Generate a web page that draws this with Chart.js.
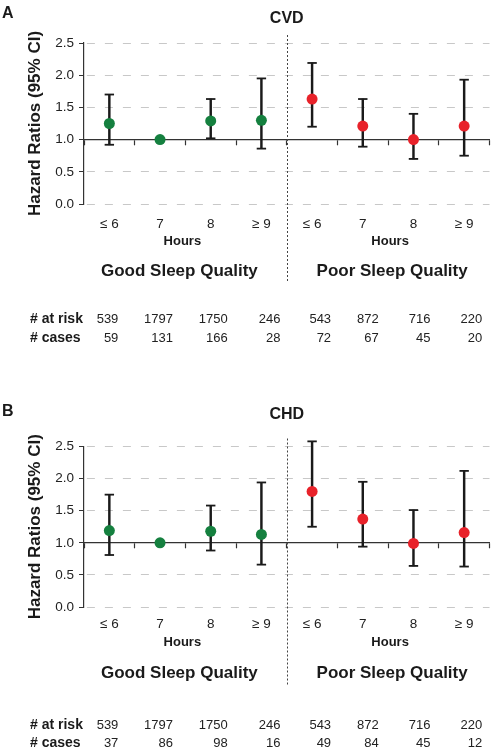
<!DOCTYPE html>
<html lang="en">
<head>
<meta charset="UTF-8">
<title>Sleep duration, sleep quality and hazard ratios</title>
<script src="https://cdn.jsdelivr.net/npm/chart.js"></script>
<style>
  body { margin: 0; background: #fff; }
  .panel { position: absolute; left: 0; width: 496px; }
  #panelA { top: 0; height: 400px; }
  #panelB { top: 400px; height: 349px; }
</style>
</head>
<body>
<div class="panel" id="panelA"><canvas id="chartA"></canvas></div>
<div class="panel" id="panelB"><canvas id="chartB"></canvas></div>

<script>
const hourLabels = ['≤ 6', '7', '8', '≥ 9', '≤ 6', '7', '8', '≥ 9'];
const groupLabels = ['Good Sleep Quality', 'Poor Sleep Quality'];

// panel A - CVD
const cvdHR    = [1.25, 1.00, 1.29, 1.30, 1.63, 1.21, 1.00, 1.21];
const cvdLower = [0.92, null, 1.02, 0.86, 1.20, 0.89, 0.70, 0.75];
const cvdUpper = [1.70, null, 1.63, 1.95, 2.19, 1.63, 1.40, 1.93];
const cvdAtRisk = [539, 1797, 1750, 246, 543, 872, 716, 220];
const cvdCases  = [59, 131, 166, 28, 72, 67, 45, 20];

// panel B - CHD
const chdHR    = [1.19, 1.00, 1.18, 1.13, 1.80, 1.37, 0.99, 1.16];
const chdLower = [0.81, null, 0.88, 0.66, 1.25, 0.94, 0.64, 0.63];
const chdUpper = [1.75, null, 1.58, 1.94, 2.58, 1.95, 1.51, 2.12];
const chdAtRisk = [539, 1797, 1750, 246, 543, 872, 716, 220];
const chdCases  = [37, 86, 98, 16, 49, 84, 45, 12];

const GREEN = '#15803f';
const RED = '#e8222a';
const INK = '#1a1a1a';
const FONT = '"Liberation Sans", Arial, sans-serif';

Chart.defaults.font.family = FONT;

// text under the plot: hours, group names, at-risk table, divider
const extras = {
  id: 'extras',
  afterDraw(chart, args, o) {
    const { ctx, chartArea: ca } = chart;
    const x = chart.scales.x;
    const px = i => x.getPixelForValue(i);
    const b = ca.bottom;
    const goodMid = (px(0) + px(3)) / 2;
    const poorMid = (px(4) + px(7)) / 2;

    ctx.save();
    ctx.fillStyle = INK;
    ctx.font = 'bold 16px ' + FONT;
    ctx.textAlign = 'left';
    ctx.textBaseline = 'alphabetic';
    ctx.fillText(o.letter, 2, o.letterY);

    // dotted divider between the two quality groups
    const mid = Math.round((px(3) + px(4)) / 2) + 0.5;
    ctx.strokeStyle = '#444';
    ctx.lineWidth = 1;
    ctx.setLineDash([2, 2]);
    ctx.beginPath();
    ctx.moveTo(mid, ca.top - 8);
    ctx.lineTo(mid, b + 78);
    ctx.stroke();
    ctx.setLineDash([]);

    ctx.textBaseline = 'middle';
    ctx.textAlign = 'center';
    ctx.font = 'bold 13px ' + FONT;
    ctx.fillText('Hours', goodMid - 3, b + o.hoursY);
    ctx.fillText('Hours', poorMid + 2, b + o.hoursY);

    ctx.font = 'bold 17px ' + FONT;
    ctx.fillText(groupLabels[0], goodMid - 6, b + o.groupY);
    ctx.fillText(groupLabels[1], poorMid + 4, b + o.groupY);

    // at-risk table, numbers right aligned under each column
    const nudge = [9, 13, 17, 19, 19, 16, 17, 18];
    ctx.textAlign = 'left';
    ctx.font = 'bold 14px ' + FONT;
    ctx.fillText('# at risk', 30, b + o.riskY);
    ctx.fillText('# cases', 30, b + o.casesY);
    ctx.textAlign = 'right';
    ctx.font = '13px ' + FONT;
    ctx.fillStyle = '#222';
    o.atRisk.forEach((v, i) => ctx.fillText(String(v), px(i) + nudge[i], b + o.riskY));
    o.cases.forEach((v, i) => ctx.fillText(String(v), px(i) + nudge[i], b + o.casesY));
    ctx.restore();
  }
};

function makePanel(canvasId, p) {
  const dotColors = p.hr.map((_, i) => i < 4 ? GREEN : RED);
  const ranges = p.lower.map((lo, i) => lo === null ? null : [lo, p.upper[i]]);

  return new Chart(document.getElementById(canvasId), {
    type: 'bar',
    data: {
      labels: hourLabels,
      datasets: [
        {
          type: 'line',
          label: 'HR',
          data: p.hr,
          showLine: false,
          pointRadius: 5.5,
          pointHoverRadius: 5.5,
          pointBackgroundColor: dotColors,
          pointBorderWidth: 0,
          order: 0,
          clip: false
        },
        {
          type: 'line',
          label: 'upper',
          data: p.upper,
          showLine: false,
          pointStyle: 'line',
          pointRadius: 4.7,
          pointBorderColor: INK,
          pointBorderWidth: 1.8,
          order: 1,
          clip: false
        },
        {
          type: 'line',
          label: 'lower',
          data: p.lower,
          showLine: false,
          pointStyle: 'line',
          pointRadius: 4.7,
          pointBorderColor: INK,
          pointBorderWidth: 1.8,
          order: 1,
          clip: false
        },
        {
          type: 'bar',
          label: '95% CI',
          data: ranges,
          backgroundColor: INK,
          barThickness: 1.8,
          order: 2,
          clip: false
        }
      ]
    },
    options: {
      responsive: true,
      maintainAspectRatio: false,
      animation: false,
      events: [],
      layout: { padding: { left: 0, right: 1, top: 0, bottom: 0 } },
      scales: {
        x: {
          afterFit: s => { s.height = p.xHeight; },
          grid: { display: false },
          border: { display: false },
          ticks: { padding: p.tickPad, color: '#222', font: { size: 13.5 }, maxRotation: 0, autoSkip: false }
        },
        x2: {
          type: 'category',
          labels: hourLabels,
          position: { y: 1 },
          offset: true,
          grid: { offset: true, drawOnChartArea: false, tickLength: 5, tickColor: '#333', tickWidth: 1.2 },
          border: { color: '#333', width: 1.3 },
          ticks: { display: false }
        },
        y: {
          min: 0,
          max: 2.5,
          afterFit: s => { s.width = 84; },
          ticks: { stepSize: 0.5, padding: 5, color: '#222', font: { size: 13.5 }, callback: v => v.toFixed(1) },
          grid: {
            color: c => (c.tick && c.tick.value === 1) ? 'rgba(0,0,0,0)' : '#c8c8c8',
            tickColor: '#333',
            tickLength: 5,
            lineWidth: 1
          },
          border: { color: '#333', width: 1.2, dash: [8, 10], dashOffset: 15.3 },
          title: {
            display: true,
            text: 'Hazard Ratios (95% CI)',
            color: INK,
            font: { size: 17, weight: 'bold' },
            padding: { top: 25, bottom: 0 }
          }
        }
      },
      plugins: {
        legend: { display: false },
        tooltip: { enabled: false },
        title: {
          display: true,
          text: p.title,
          fullSize: false,
          color: INK,
          font: { size: 16, weight: 'bold' },
          padding: { top: p.titleTop, bottom: p.titleBottom }
        },
        extras: p
      }
    },
    plugins: [extras]
  });
}

makePanel('chartA', {
  letter: 'A', letterY: 17.5, title: 'CVD', titleTop: 9.4, titleBottom: 14.4,
  xHeight: 196, tickPad: 4,
  hoursY: 37.7, groupY: 67.7, riskY: 115, casesY: 134.3,
  hr: cvdHR, lower: cvdLower, upper: cvdUpper, atRisk: cvdAtRisk, cases: cvdCases
});

makePanel('chartB', {
  letter: 'B', letterY: 15.7, title: 'CHD', titleTop: 5.4, titleBottom: 21.9,
  xHeight: 142, tickPad: 1,
  hoursY: 35.3, groupY: 66.3, riskY: 118, casesY: 136.3,
  hr: chdHR, lower: chdLower, upper: chdUpper, atRisk: chdAtRisk, cases: chdCases
});
</script>
</body>
</html>
